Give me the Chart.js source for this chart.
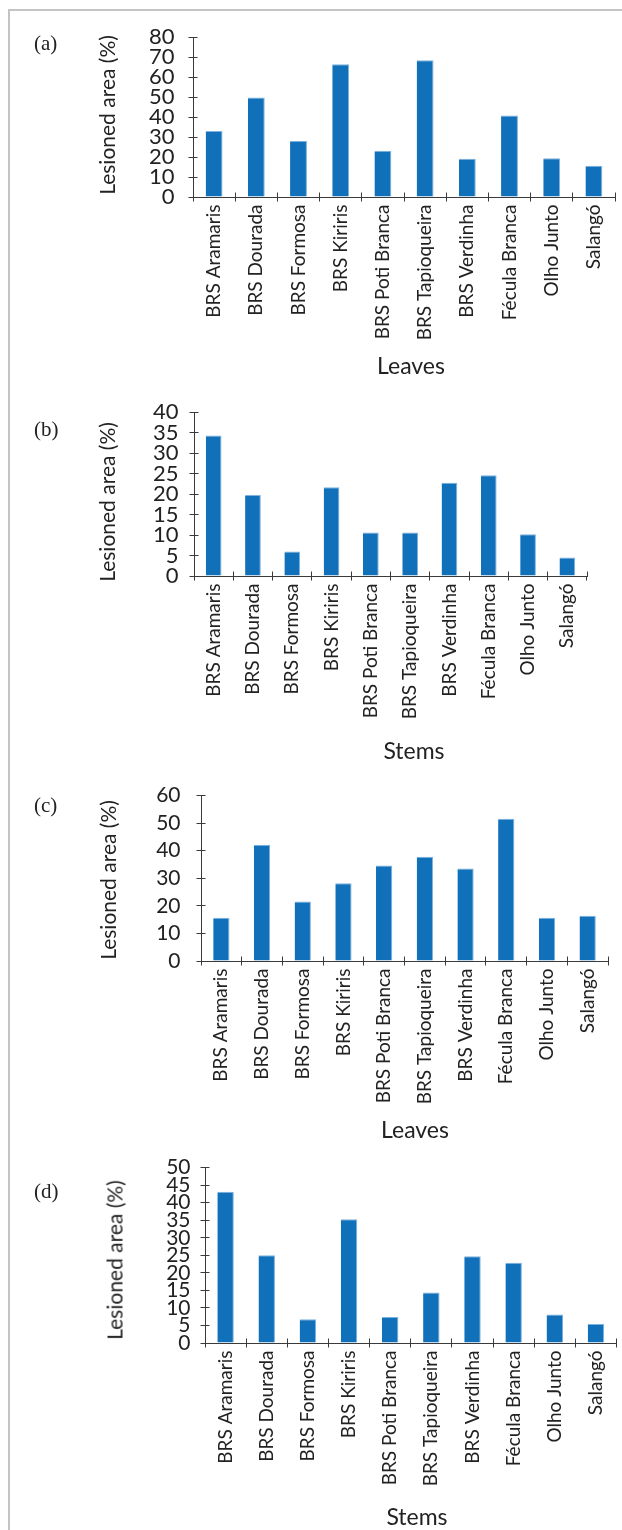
<!DOCTYPE html>
<html>
<head>
<meta charset="utf-8">
<script src="https://cdn.jsdelivr.net/npm/chart.js@4.4.1/dist/chart.umd.min.js"></script>
<style>
  html, body { margin: 0; padding: 0; background: #fff; }
  body { width: 622px; height: 1530px; position: relative; overflow: hidden;
         font-family: Lato, "Liberation Sans", Arial, sans-serif; color: #222; }
  .frame { position: absolute; left: 8px; top: 9px; width: 614px; height: 1521px;
           border-left: 2px solid #c4c4c4; border-top: 2px solid #c4c4c4; }
  canvas { position: absolute; left: 0; }
  .tag { position: absolute; font-family: "Liberation Serif", "Times New Roman", serif;
         font-size: 21px; line-height: 1; color: #222; }
  .ytitle { position: absolute; font-size: 21px; line-height: 1; white-space: nowrap;
            transform: translate(-50%, -50%) rotate(-90deg); }
  .xtitle { position: absolute; font-size: 23px; line-height: 1; white-space: nowrap;
            transform: translate(-50%, -50%); }
</style>
</head>
<body>
<div class="frame"></div>
<script>
// Cassava cultivars shown on every panel
const cultivars = ['BRS Aramaris', 'BRS Dourada', 'BRS Formosa', 'BRS Kiriris', 'BRS Poti Branca',
                   'BRS Tapioqueira', 'BRS Verdinha', 'Fécula Branca', 'Olho Junto', 'Salangó'];

// Lesioned area (%) per cultivar
const leavesA = [33.0, 49.8, 28.0, 66.5, 23.2, 68.5, 19.1, 40.8, 19.4, 15.7];
const stemsB  = [34.3, 19.8, 6.0, 21.7, 10.6, 10.6, 22.8, 24.6, 10.2, 4.5];
const leavesC = [15.7, 42.2, 21.6, 28.2, 34.6, 37.8, 33.6, 51.6, 15.7, 16.4];
const stemsD  = [43.1, 25.0, 6.8, 35.3, 7.4, 14.4, 24.7, 22.9, 8.1, 5.4];

// Y-axis ranges and tick steps
const yMaxA = 80, yStepA = 10;
const yMaxB = 40, yStepB = 5;
const yMaxC = 60, yStepC = 10;
const yMaxD = 50, yStepD = 5;

// Panel captions and axis titles
const panelTags = ['(a)', '(b)', '(c)', '(d)'];
const xTitles = ['Leaves', 'Stems', 'Leaves', 'Stems'];
const yTitle = 'Lesioned area (%)';

const FONT = 'Lato, "Liberation Sans", Arial, sans-serif';
const AXIS = '#3a3a3a';
const TXT = '#222';
const BAR = '#1170ba';
const BAR_EDGE = '#7fb1dd';

// Short tick marks on the inner side of both axes, so ticks cross the axis lines
const innerTicks = {
  id: 'innerTicks',
  afterDraw(chart) {
    const { ctx, chartArea, scales: { x, y } } = chart;
    const align = v => Math.round(v - 0.5) + 0.5;
    ctx.save();
    ctx.strokeStyle = AXIS;
    ctx.lineWidth = 1;
    ctx.beginPath();
    const n = chart.data.labels.length;
    for (let i = 0; i <= n; i++) {
      const px = align(x.getPixelForValue(i - 0.5));
      ctx.moveTo(px, chartArea.bottom);
      ctx.lineTo(px, chartArea.bottom - 4.5);
    }
    y.ticks.forEach((t, i) => {
      const py = align(y.getPixelForTick(i));
      ctx.moveTo(chartArea.left, py);
      ctx.lineTo(chartArea.left + 4.5, py);
    });
    ctx.stroke();
    ctx.restore();
  }
};

const panels = [
  { values: leavesA, max: yMaxA, step: yStepA, box: { left: 193, right: 615, top: 30, bottom: 197 },
    labelPad: 14, tickSize: 22, tag: [34, 43], yT: [106, 115], xT: [411, 365] },
  { values: stemsB, max: yMaxB, step: yStepB, box: { left: 194, right: 587, top: 408, bottom: 576 },
    labelPad: 11, tickSize: 22, tag: [34, 429], yT: [106, 502], xT: [414, 750] },
  { values: leavesC, max: yMaxC, step: yStepC, box: { left: 201, right: 608, top: 787, bottom: 961 },
    labelPad: 16, tickSize: 21, tag: [34, 805], yT: [107, 880], xT: [415, 1129] },
  { values: stemsD, max: yMaxD, step: yStepD, box: { left: 205, right: 617, top: 1165, bottom: 1343 },
    labelPad: 10, tickSize: 21, tag: [34, 1191], yT: [114, 1260], xT: [417, 1516] }
];

function addText(cls, text, x, y) {
  const d = document.createElement('div');
  d.className = cls;
  d.textContent = text;
  d.style.left = x + 'px';
  d.style.top = y + 'px';
  document.body.appendChild(d);
}

panels.forEach((p, k) => {
  const padTop = 20, xH = 165;
  const cTop = p.box.top - padTop;
  const cH = padTop + (p.box.bottom - p.box.top) + xH;
  const canvas = document.createElement('canvas');
  canvas.width = 622;
  canvas.height = cH;
  canvas.style.top = cTop + 'px';
  canvas.style.width = '622px';
  canvas.style.height = cH + 'px';
  document.body.appendChild(canvas);

  new Chart(canvas, {
    type: 'bar',
    data: {
      labels: cultivars,
      datasets: [{
        data: p.values,
        backgroundColor: BAR,
        borderColor: BAR_EDGE,
        borderWidth: { top: 1, right: 1, left: 0, bottom: 0 },
        borderSkipped: 'start',
        barPercentage: 0.4,
        categoryPercentage: 1
      }]
    },
    options: {
      responsive: false,
      animation: false,
      devicePixelRatio: 1,
      layout: { padding: { left: 0, top: padTop, right: 622 - p.box.right, bottom: 0 } },
      plugins: { legend: { display: false }, tooltip: { enabled: false } },
      scales: {
        x: {
          offset: true,
          grid: { offset: true, drawOnChartArea: false, drawTicks: true, tickLength: 4.5,
                  tickColor: AXIS, tickWidth: 1 },
          border: { display: true, color: AXIS, width: 1 },
          ticks: { autoSkip: false, maxRotation: 90, minRotation: 90, padding: 3, color: TXT,
                   font: { family: FONT, size: 19 } },
          afterFit: s => { s.height = xH; }
        },
        y: {
          min: 0, max: p.max,
          grid: { drawOnChartArea: false, drawTicks: true, tickLength: 4.5, tickColor: AXIS, tickWidth: 1 },
          border: { display: true, color: AXIS, width: 1 },
          ticks: { stepSize: p.step, autoSkip: false, padding: p.labelPad, color: TXT,
                   font: { family: FONT, size: p.tickSize } },
          afterFit: s => { s.width = p.box.left; }
        }
      }
    },
    plugins: [innerTicks]
  });

  addText('tag', panelTags[k], p.tag[0], p.tag[1] - 10);
  addText('ytitle', yTitle, p.yT[0], p.yT[1]);
  addText('xtitle', xTitles[k], p.xT[0], p.xT[1]);
});
</script>
</body>
</html>
